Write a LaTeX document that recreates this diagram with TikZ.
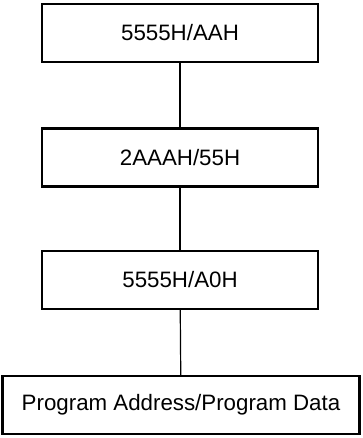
\documentclass[tikz,border=0pt]{standalone}
\usepackage{fontspec}
\setmainfont{Liberation Sans}
\usetikzlibrary{positioning}

\begin{document}
\begin{tikzpicture}[x=1pt,y=-1pt,
  stepbox/.style={draw,line width=2.4pt,minimum width=276pt,minimum height=58pt,
                  inner sep=0pt,font=\fontsize{22.3}{26}\selectfont},
  widebox/.style={stepbox,minimum width=357pt},
  link/.style={line width=1.2pt},
]
\useasboundingbox (0,0) rectangle (362,438);

% Command sequence
\node[stepbox] (cmdA) at (180,33)    {5555H/AAH};
\node[stepbox] (cmdB) at (180,157.5) {2AAAH/55H};
\node[stepbox] (cmdC) at (180,280)   {5555H/A0H};

% Final write
\node[widebox] (prog) at (181,405) {Program Address/Program Data};

% Connectors
\draw[link] (cmdA) -- (cmdB);
\draw[link] (cmdB) -- (cmdC);
\draw[link] (cmdC) -- (prog);

\end{tikzpicture}
\end{document}
